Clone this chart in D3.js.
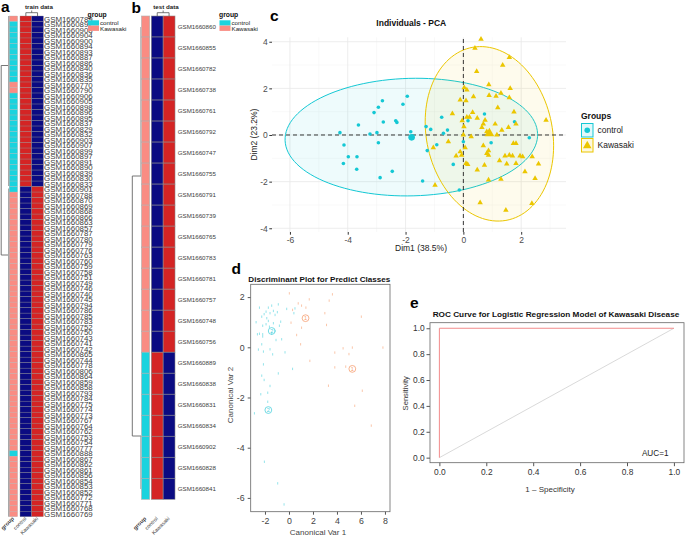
<!DOCTYPE html>
<html><head><meta charset="utf-8">
<script src="https://cdn.jsdelivr.net/npm/d3@7"></script>
<style>body{margin:0;background:#fff}svg{display:block;font-family:"Liberation Sans",Arial,Helvetica,sans-serif}</style>
</head><body><svg id="fig" width="685" height="537"></svg>
<script>
// ---------------- DATA ----------------
const heatColumns = ["control","Kawasaki"];
const groupNames = ["control","Kawasaki"];
const trainSamples = ["GSM1660789","GSM1660892","GSM1660908","GSM1660904","GSM1660900","GSM1660894","GSM1660893","GSM1660887","GSM1660886","GSM1660840",
"GSM1660836","GSM1660835","GSM1660770","GSM1660790","GSM1660906","GSM1660905","GSM1660898","GSM1660896","GSM1660895","GSM1660837",
"GSM1660829","GSM1660832","GSM1660903","GSM1660907","GSM1660899","GSM1660897","GSM1660891","GSM1660890","GSM1660839","GSM1660830",
"GSM1660833","GSM1660901","GSM1660788","GSM1660870","GSM1660869","GSM1660868","GSM1660866","GSM1660863","GSM1660857","GSM1660787",
"GSM1660780","GSM1660779","GSM1660776","GSM1660763","GSM1660760","GSM1660759","GSM1660758","GSM1660751","GSM1660749","GSM1660746",
"GSM1660740","GSM1660745","GSM1660794","GSM1660786","GSM1660785","GSM1660783","GSM1660752","GSM1660750","GSM1660743","GSM1660741",
"GSM1660742","GSM1660865","GSM1660744","GSM1660778","GSM1660806","GSM1660864","GSM1660859","GSM1660858","GSM1660793","GSM1660784",
"GSM1660775","GSM1660774","GSM1660773","GSM1660767","GSM1660764","GSM1660762","GSM1660753","GSM1660754","GSM1660777","GSM1660888",
"GSM1660867","GSM1660862","GSM1660861","GSM1660856","GSM1660854","GSM1660853","GSM1660852","GSM1660772","GSM1660771","GSM1660768",
"GSM1660769"];
// 1 = Kawasaki, 0 = control (annotation)
const trainGroup = [1,0,0,0,0,0,0,0,0,0, 0,0,1,1,0,0,0,0,0,0, 0,0,0,0,0,0,0,0,0,0, 0,0,1,1,1,1,1,1,1,1,
1,1,1,1,1,1,1,1,1,1, 1,1,1,1,1,1,1,1,1,1, 1,1,1,1,1,1,1,1,1,1, 1,1,1,1,1,1,1,1,1,0, 1,1,1,1,1,1,1,1,1,1, 1];
// predicted Kawasaki (1) / control (0)
const trainPred = [0,0,0,0,0,0,0,0,0,0, 0,0,0,0,0,0,0,0,0,0, 0,0,0,0,0,0,0,0,0,0, 0,1,1,1,1,1,1,1,1,1,
1,1,1,1,1,1,1,1,1,1, 1,1,1,1,1,1,1,1,1,1, 1,1,1,1,1,1,1,1,1,1, 1,1,1,1,1,1,1,1,1,1, 1,1,1,1,1,1,1,1,1,1, 1];
const testSamples = ["GSM1660860","GSM1660855","GSM1660782","GSM1660738","GSM1660761","GSM1660792","GSM1660747","GSM1660755","GSM1660791","GSM1660739","GSM1660765","GSM1660783","GSM1660781","GSM1660757","GSM1660748","GSM1660756","GSM1660889","GSM1660838","GSM1660831","GSM1660834","GSM1660902","GSM1660828","GSM1660841"];
const testGroup = [1,1,1,1,1,1,1,1,1,1,1,1,1,1,1,1,0,0,0,0,0,0,0];
const testPred  = [1,1,1,1,1,1,1,1,1,1,1,1,1,1,1,1,0,0,0,0,0,0,0];

// PCA
const pcaXTicks = [-6,-4,-2,0,2], pcaYTicks = [-4,-2,0,2,4];
const pcaXMinor = [-5,-3,-1,1,3], pcaYMinor = [-3,-1,1,3];
const pcaControl = [[-4.27,0.1],[-4.13,-0.43],[-3.63,0.43],[-3.98,-0.93],[-4.15,-1.22],[-3.68,-0.93],[-3.69,-1.47],[-3.23,0.04],[-3.09,0.96],[-2.94,1.19],[-2.80,1.47],[-2.77,0.56],[-2.99,0.1],[-2.94,-0.33],[-2.88,-1.83],[-2.46,-1.56],[-2.34,0.61],[-2.30,0.54],[-2.09,1.32],[-1.94,1.66],[-1.82,0.14],[-1.41,-1.97],[-1.29,0.36],[-1.25,-0.67],[-1.13,0.24],[-0.92,-0.42],[-0.75,0.76],[-0.69,0.07],[-0.55,0.21],[-0.35,-1.26],[-0.14,-2.36],[0.0,-0.29],[0.16,0.61],[0.73,0.9],[0.96,-0.33],[1.77,0.57],[2.28,-0.12]];
const pcaKawasaki = [[0.61,4.11],[0.40,3.72],[1.59,3.33],[1.36,3.0],[0.46,2.73],[0.88,2.16],[0.03,2.03],[0.12,1.93],[1.62,2.0],[0.35,1.64],[0.89,1.70],[1.13,1.67],[1.30,1.79],[1.59,1.60],[-0.11,1.50],[0.09,1.47],[1.19,1.17],[0.32,0.97],[-0.38,0.91],[1.75,0.99],[0.12,0.76],[0.21,0.76],[0.48,0.72],[0.75,0.64],[-0.04,0.61],[0.69,0.47],[1.10,0.47],[1.56,0.33],[1.82,0.47],[2.86,0.64],[0.02,0.36],[0.64,0.33],[0.81,0.14],[1.33,0.21],[1.16,0.0],[0.27,-0.07],[-0.52,-0.29],[1.73,-0.36],[1.82,-0.36],[0.06,-0.54],[0.69,-0.46],[0.87,-0.67],[0.81,-0.79],[-0.11,-0.72],[-0.06,-0.86],[-0.25,-0.9],[0.87,-0.86],[1.59,-0.86],[1.70,-0.9],[1.44,-0.9],[1.96,-0.9],[2.05,-0.93],[2.38,-0.93],[1.25,-1.10],[0.09,-1.22],[0.15,-1.26],[0.73,-1.29],[1.50,-1.24],[1.82,-1.22],[2.60,-1.24],[0.48,-1.5],[2.13,-1.57],[1.30,-1.89],[0.87,-1.93],[2.48,-1.86],[0.58,-2.90],[2.37,-2.93],[1.47,-3.22],[-1.04,-0.54],[-0.98,-2.15],[0.0,0.0]];
const pcaCentroids = [[-1.79,-0.1],[0.90,0.07]];
// ellipse params: [cx, cy, semi-major, semi-minor, angle of major axis in degrees]
const pcaEllipses = [[-1.80,-0.09,4.37,2.52,2],[0.90,0.05,3.76,2.19,97]];

// LDA
const ldaXTicks = [-2,0,2,4,6,8], ldaYTicks = [-6,-4,-2,0,2];
const ldaClass2 = [[-2.46,1.58],[-2.27,1.22],[-2.74,1.0],[-2.07,1.32],[-1.91,1.42],[-1.72,1.58],[-1.58,1.36],[-1.30,1.45],[-1.16,1.29],[-0.97,1.40],[-1.44,1.66],[-0.89,1.71],[-1.85,1.16],[-2.19,0.86],[-1.91,0.92],[-1.63,0.82],[-2.46,0.54],[-2.19,0.52],[-1.44,0.54],[-1.16,0.65],[-0.80,0.86],[-0.69,1.02],[-1.30,0.96],[-0.61,0.32],[-2.19,0.43],[-2.27,0.12],[-2.55,-0.09],[-2.13,-0.17],[-1.58,-0.08],[-1.36,-0.28],[-0.33,-0.20],[0.50,1.55],[0.41,1.36],[-2.13,-0.68],[0.30,-0.86],[-0.89,-1.04],[-2.27,-1.13],[-2.07,-1.30],[-1.58,-1.54],[-2.35,-1.87],[-1.77,-1.81],[-1.77,-2.17],[-2.88,-2.63],[-2.05,-4.56],[-0.94,-5.42],[-0.41,-6.26],[-1.72,1.05],[-2.63,0.52],[-1.08,0.29],[-0.19,1.53]];
const ldaClass1 = [[0.03,2.15],[0.77,1.75],[1.05,1.66],[1.41,1.58],[1.69,1.91],[0.30,1.49],[3.35,1.86],[3.62,2.11],[2.99,1.36],[3.13,0.89],[0.17,0.98],[1.05,0.78],[0.64,0.49],[0.97,0.12],[1.74,-0.54],[3.82,-0.21],[4.51,-0.04],[5.28,-0.01],[7.83,-0.01],[5.0,-0.27],[3.82,-0.80],[4.73,-0.77],[3.29,-1.53],[6.11,-1.73],[5.48,-2.33],[6.86,-3.12],[6.03,1.22]];
const ldaCentroids2 = [[-1.44,0.65],[-1.72,-2.5]];
const ldaCentroids1 = [[1.38,1.16],[5.28,-0.86]];

// ROC
const rocTicks = [0,0.2,0.4,0.6,0.8,1.0];
const rocCurve = [[0,0],[0,1],[1,1]];
const rocDiag = [[0,0],[1,1]];
const aucLabel = "AUC=1";

// ---------------- DRAW ----------------
const svg = d3.select("#fig");
svg.append("rect").attr("width",685).attr("height",537).attr("fill","#fff");
const groupColor = d3.scaleOrdinal().domain([0,1]).range(["#1ad3de","#f98c83"]);
const heatColor = d3.scaleOrdinal().domain([0,1]).range(["#0b0b82","#d42424"]);

function panelLetter(t,x,y){svg.append("text").attr("x",x).attr("y",y).attr("font-size",15.5).attr("font-weight","bold").attr("fill","#000").text(t);}

function heatmap(o){
  const g = svg.append("g");
  const y = d3.scaleBand().domain(d3.range(o.samples.length)).range([o.top,o.bottom]);
  const x = d3.scaleBand().domain(heatColumns).range([o.colX0,o.colX1]);
  g.selectAll(".ann").data(o.group).join("rect")
    .attr("x",o.annX0).attr("width",o.annX1-o.annX0)
    .attr("y",(d,i)=>y(i)).attr("height",y.bandwidth())
    .attr("fill",d=>groupColor(d)).attr("stroke","#b0b0b0").attr("stroke-width",o.sw);
  o.pred.forEach((p,i)=>{
    heatColumns.forEach((c,j)=>{
      const v = j===1 ? p : 1-p;
      g.append("rect").attr("x",x(c)).attr("width",x.bandwidth())
        .attr("y",y(i)).attr("height",y.bandwidth())
        .attr("fill",heatColor(v)).attr("stroke","#8a8a8a").attr("stroke-width",o.sw);
    });
  });
  g.selectAll(".lab").data(o.samples).join("text")
    .attr("x",o.labelX).attr("y",(d,i)=>y(i)+y.bandwidth()/2).attr("dy","0.36em")
    .attr("font-size",o.fs).attr("fill","#3c3c3c").text(d=>d);
  const cx0 = x("control")+x.bandwidth()/2, cx1 = x("Kawasaki")+x.bandwidth()/2;
  g.append("path").attr("d",`M${cx0},${o.top}V${o.top-3.3}H${cx1}V${o.top}M${(cx0+cx1)/2},${o.top-3.3}V${o.top-5.5}`)
    .attr("fill","none").attr("stroke","#555").attr("stroke-width",0.8);
  const ly = 519;
  g.append("text").attr("transform",`translate(${(o.annX0+o.annX1)/2+1},${ly}) rotate(-45)`).attr("text-anchor","end")
    .attr("font-size",5.6).attr("font-weight","bold").attr("fill","#333").text("group");
  heatColumns.forEach(c=>{
    g.append("text").attr("transform",`translate(${x(c)+x.bandwidth()/2+1},${ly}) rotate(-45)`).attr("text-anchor","end")
      .attr("font-size",5.3).attr("fill","#444").text(c);
  });
  g.append("text").attr("x",o.titleX).attr("y",9).attr("font-size",6.2).attr("font-weight","bold").attr("fill","#222").text(o.title);
  const L = g.append("g").attr("transform",`translate(${o.legX},0)`);
  L.append("text").attr("x",0).attr("y",16.5).attr("font-size",6.8).attr("font-weight","bold").attr("fill","#111").text("group");
  groupNames.forEach((n,i)=>{
    L.append("rect").attr("x",0.5).attr("y",20.3+i*5.3).attr("width",11).attr("height",5.3).attr("fill",groupColor(i));
    L.append("text").attr("x",12.5).attr("y",25+i*5.6).attr("font-size",6.2).attr("fill","#222").text(n);
  });
  return {g,y};
}

// panel a
panelLetter("a",1,12);
const A = heatmap({samples:trainSamples,group:trainGroup,pred:trainPred,top:16,bottom:516.7,
  annX0:9.2,annX1:17.6,colX0:20,colX1:43.4,labelX:44,fs:7.9,sw:0.35,title:"train data",titleX:25,legX:87.5});
A.g.append("rect").attr("x",8).attr("y",16).attr("width",1.3).attr("height",170).attr("fill","#a8a8a8");
A.g.append("rect").attr("x",8).attr("y",188.5).attr("width",1.3).attr("height",328.2).attr("fill","#a8a8a8");
A.g.append("path").attr("d","M8,65.5H1.2V255H8").attr("fill","none").attr("stroke","#666").attr("stroke-width",0.9);

// panel b
panelLetter("b",131.5,12.5);
const B = heatmap({samples:testSamples,group:testGroup,pred:testPred,top:16,bottom:499.3,
  annX0:141.5,annX1:149.7,colX0:151.3,colX1:175,labelX:177.7,fs:6.2,sw:0.6,title:"test data",titleX:153.3,legX:219});
B.g.append("path").attr("d","M141,176H132.3V436H141").attr("fill","none").attr("stroke","#666").attr("stroke-width",0.9);
B.g.append("path").attr("d","M140.6,27V176M140.6,436V489").attr("fill","none").attr("stroke","#999").attr("stroke-width",0.7);

// ---------------- panel c : PCA ----------------
panelLetter("c",270,21);
const xc = d3.scaleLinear().domain([-6.62,3.55]).range([272,566]);
const yc = d3.scaleLinear().domain([-4.16,4.19]).range([232,37.3]);
const C = svg.append("g");
C.selectAll(".vmin").data(pcaXMinor).join("line").attr("x1",d=>xc(d)).attr("x2",d=>xc(d)).attr("y1",yc.range()[0]).attr("y2",yc.range()[1]).attr("stroke","#f3f3f3").attr("stroke-width",0.5);
C.selectAll(".hmin").data(pcaYMinor).join("line").attr("y1",d=>yc(d)).attr("y2",d=>yc(d)).attr("x1",xc.range()[0]).attr("x2",xc.range()[1]).attr("stroke","#f3f3f3").attr("stroke-width",0.5);
C.selectAll(".vmaj").data(pcaXTicks).join("line").attr("x1",d=>xc(d)).attr("x2",d=>xc(d)).attr("y1",yc.range()[0]).attr("y2",yc.range()[1]).attr("stroke","#e9e9e9").attr("stroke-width",0.8);
C.selectAll(".hmaj").data(pcaYTicks).join("line").attr("y1",d=>yc(d)).attr("y2",d=>yc(d)).attr("x1",xc.range()[0]).attr("x2",xc.range()[1]).attr("stroke","#e9e9e9").attr("stroke-width",0.8);
const pcaCol = ["#14c8d4","#ebc600"];
const ellLine = d3.line().x(d=>xc(d[0])).y(d=>yc(d[1])).curve(d3.curveLinearClosed);
pcaEllipses.forEach((e,k)=>{
  const [cx,cy,a,b,ang] = e, th = ang*Math.PI/180;
  const pts = d3.range(0,360,3).map(t=>{t=t*Math.PI/180;
    return [cx + a*Math.cos(t)*Math.cos(th) - b*Math.sin(t)*Math.sin(th), cy + a*Math.cos(t)*Math.sin(th) + b*Math.sin(t)*Math.cos(th)];});
  C.append("path").attr("d",ellLine(pts)).attr("fill",pcaCol[k]).attr("fill-opacity",0.07).attr("stroke",pcaCol[k]).attr("stroke-width",1);
});
C.append("line").attr("x1",xc(0)).attr("x2",xc(0)).attr("y1",yc.range()[0]).attr("y2",yc.range()[1]).attr("stroke","#222").attr("stroke-dasharray","4,3").attr("stroke-width",0.9);
C.append("line").attr("y1",yc(0)).attr("y2",yc(0)).attr("x1",xc.range()[0]).attr("x2",xc.range()[1]).attr("stroke","#222").attr("stroke-dasharray","4,3").attr("stroke-width",0.9);
C.selectAll(".pc").data(pcaControl).join("circle").attr("cx",d=>xc(d[0])).attr("cy",d=>yc(d[1])).attr("r",1.8).attr("fill",pcaCol[0]);
const tri = d3.symbol(d3.symbolTriangle,13);
C.selectAll(".pk").data(pcaKawasaki).join("path").attr("d",tri).attr("transform",d=>`translate(${xc(d[0])},${yc(d[1])})`).attr("fill",pcaCol[1]);
C.append("circle").attr("cx",xc(pcaCentroids[0][0])).attr("cy",yc(pcaCentroids[0][1])).attr("r",3.3).attr("fill",pcaCol[0]);
C.append("path").attr("d",d3.symbol(d3.symbolTriangle,40)).attr("transform",`translate(${xc(pcaCentroids[1][0])},${yc(pcaCentroids[1][1])})`).attr("fill",pcaCol[1]);
const cxAxis = C.append("g").attr("transform","translate(0,232)").call(d3.axisBottom(xc).tickValues(pcaXTicks).tickSize(2.7).tickPadding(1.8).tickFormat(d3.format("d")));
const cyAxis = C.append("g").attr("transform","translate(272,0)").call(d3.axisLeft(yc).tickValues(pcaYTicks).tickSize(2.7).tickPadding(1.5).tickFormat(d3.format("d")));
[cxAxis,cyAxis].forEach(a=>{a.select(".domain").remove();a.selectAll("line").attr("stroke","#333");
  a.selectAll("text").attr("font-size",8.5).attr("fill","#4d4d4d").attr("font-family","Liberation Sans, Arial, sans-serif").text(function(){return this.textContent.replace("−","-");});});
C.append("text").attr("x",421).attr("y",250.5).attr("text-anchor","middle").attr("font-size",8.5).attr("fill","#222").text("Dim1 (38.5%)");
C.append("text").attr("transform","translate(256.5,134.6) rotate(-90)").attr("text-anchor","middle").attr("font-size",8.5).attr("fill","#222").text("Dim2 (23.2%)");
C.append("text").attr("x",411.3).attr("y",25.5).attr("text-anchor","middle").attr("font-size",8.5).attr("font-weight","bold").attr("fill","#111").text("Individuals - PCA");
C.append("text").attr("x",581).attr("y",119).attr("font-size",8.5).attr("font-weight","bold").attr("fill","#111").text("Groups");
groupNames.forEach((n,i)=>{
  const ky = 123.5 + i*15;
  C.append("rect").attr("x",581.5).attr("y",ky).attr("width",11.5).attr("height",13.5).attr("fill",pcaCol[i]).attr("fill-opacity",0.12).attr("stroke",pcaCol[i]).attr("stroke-width",1);
  if(i===0) C.append("circle").attr("cx",587.25).attr("cy",ky+6.75).attr("r",2.8).attr("fill",pcaCol[0]);
  else C.append("path").attr("d",d3.symbol(d3.symbolTriangle,32)).attr("transform",`translate(587.25,${ky+7.2})`).attr("fill",pcaCol[1]);
  C.append("text").attr("x",597.5).attr("y",ky+9.6).attr("font-size",8.5).attr("fill","#222").text(n);
});

// ---------------- panel d : LDA ----------------
panelLetter("d",231.5,273.5);
const xd = d3.scaleLinear().domain([-3.19,8.42]).range([250.7,390]);
const yd = d3.scaleLinear().domain([-6.55,2.51]).range([511.7,284.3]);
const D = svg.append("g");
const dx = D.append("g").attr("transform","translate(0,511.7)").call(d3.axisBottom(xd).tickValues(ldaXTicks).tickSize(3).tickPadding(3).tickFormat(d3.format("d")));
const dy = D.append("g").attr("transform","translate(250.7,0)").call(d3.axisLeft(yd).tickValues(ldaYTicks).tickSize(3).tickPadding(3).tickFormat(d3.format("d")));
[dx,dy].forEach(a=>{a.select(".domain").remove();a.selectAll("line").attr("stroke","#555");
  a.selectAll("text").attr("font-size",8.8).attr("fill","#444").attr("font-family","Liberation Sans, Arial, sans-serif").text(function(){return this.textContent.replace("−","-");});});
D.append("rect").attr("x",250.7).attr("y",284.3).attr("width",139.3).attr("height",227.4).attr("fill","none").attr("stroke","#666").attr("stroke-width",0.8);
const dcol2 = "#4fd2de", dcol1 = "#f6a072";
D.selectAll(".c2").data(ldaClass2).join("rect").attr("x",d=>xd(d[0])-0.5).attr("y",d=>yd(d[1])-1.2).attr("width",1).attr("height",2.4).attr("fill",dcol2).attr("fill-opacity",0.6);
D.selectAll(".c1").data(ldaClass1).join("rect").attr("x",d=>xd(d[0])-0.5).attr("y",d=>yd(d[1])-1.2).attr("width",1).attr("height",2.4).attr("fill",dcol1).attr("fill-opacity",0.6);
[[ldaCentroids2,dcol2,"2"],[ldaCentroids1,dcol1,"1"]].forEach(([arr,col,lab])=>{
  arr.forEach(p=>{
    D.append("circle").attr("cx",xd(p[0])).attr("cy",yd(p[1])).attr("r",3.4).attr("fill","none").attr("stroke",col).attr("stroke-width",0.8);
    D.append("text").attr("x",xd(p[0])).attr("y",yd(p[1])).attr("dy","0.36em").attr("text-anchor","middle").attr("font-size",5.5).attr("fill",col).text(lab);
  });
});
D.append("text").attr("x",248.3).attr("y",281.5).attr("font-size",8.1).attr("font-weight","bold").attr("fill","#111").attr("textLength",142).attr("lengthAdjust","spacingAndGlyphs").text("Discriminant Plot for Predict Classes");
D.append("text").attr("x",318).attr("y",535).attr("text-anchor","middle").attr("font-size",8).attr("fill","#444").text("Canonical Var 1");
D.append("text").attr("transform","translate(232.5,395) rotate(-90)").attr("text-anchor","middle").attr("font-size",8).attr("fill","#444").text("Canonical Var 2");

// ---------------- panel e : ROC ----------------
panelLetter("e",410,307.5);
const xe = d3.scaleLinear().domain([-0.04,1.043]).range([430,684]);
const ye = d3.scaleLinear().domain([-0.039,1.043]).range([462.7,322.7]);
const E = svg.append("g");
const ex = E.append("g").attr("transform","translate(0,462.7)").call(d3.axisBottom(xe).tickValues(rocTicks).tickSize(3.5).tickPadding(3).tickFormat(d3.format(".1f")));
const ey = E.append("g").attr("transform","translate(430,0)").call(d3.axisLeft(ye).tickValues(rocTicks).tickSize(3.5).tickPadding(1.8).tickFormat(d3.format(".1f")));
[ex,ey].forEach(a=>{a.select(".domain").remove();a.selectAll("line").attr("stroke","#555");
  a.selectAll("text").attr("font-size",8.4).attr("fill","#333").attr("font-family","Liberation Sans, Arial, sans-serif");});
E.append("rect").attr("x",430).attr("y",322.7).attr("width",254).attr("height",140).attr("fill","none").attr("stroke","#666").attr("stroke-width",0.8);
const eline = d3.line().x(d=>xe(d[0])).y(d=>ye(d[1]));
E.append("path").attr("d",eline(rocDiag)).attr("fill","none").attr("stroke","#cfcfcf").attr("stroke-width",0.8);
E.append("path").attr("d",eline(rocCurve)).attr("fill","none").attr("stroke","#f28a8a").attr("stroke-width",1);
E.append("text").attr("x",668.5).attr("y",455.5).attr("text-anchor","end").attr("font-size",8.2).attr("fill","#222").text(aucLabel);
E.append("text").attr("x",432.7).attr("y",316.5).attr("font-size",8).attr("font-weight","bold").attr("fill","#111").attr("textLength",246.6).attr("lengthAdjust","spacingAndGlyphs").text("ROC Curve for Logistic Regression Model of Kawasaki Disease");
E.append("text").attr("x",550).attr("y",491.5).attr("text-anchor","middle").attr("font-size",8).attr("fill","#333").text("1 \u2013 Specificity");
E.append("text").attr("transform","translate(407.5,393.3) rotate(-90)").attr("text-anchor","middle").attr("font-size",7.6).attr("fill","#333").text("Sensitivity");
</script></body></html>
